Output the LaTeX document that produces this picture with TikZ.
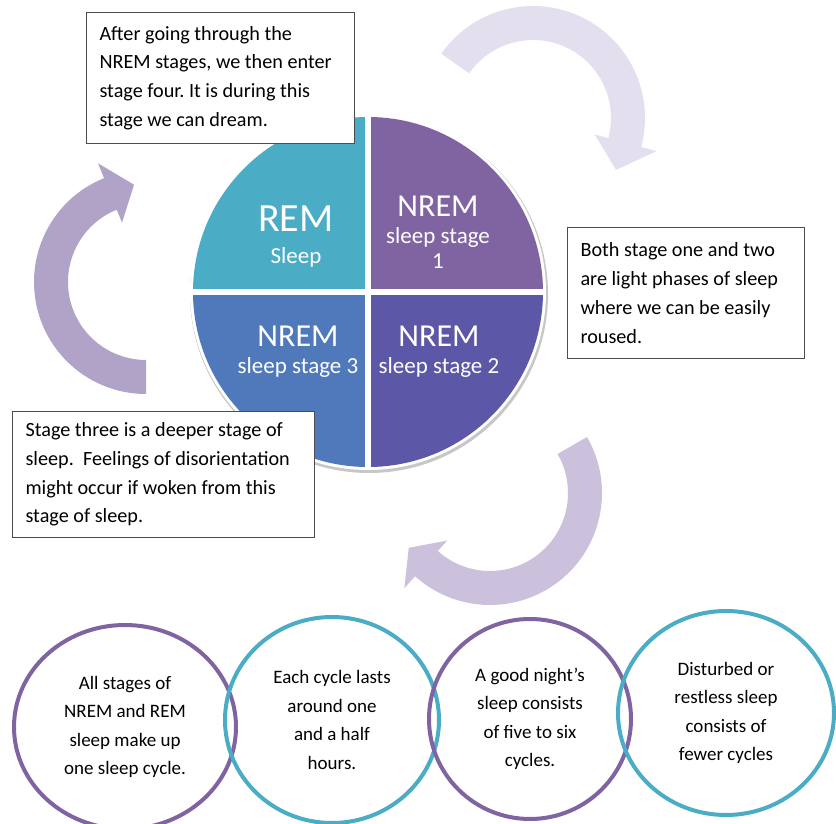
\documentclass[tikz,border=0pt]{standalone}
\usepackage{fontspec}
\setmainfont{Carlito}
\usetikzlibrary{shapes.geometric}
\definecolor{remteal}{HTML}{4BACC6}
\definecolor{stageone}{HTML}{8064A2}
\definecolor{stagetwo}{HTML}{5D57A8}
\definecolor{stagethree}{HTML}{4F79BB}
\definecolor{arrowlight}{HTML}{E4DFEE}
\definecolor{arrowmid}{HTML}{CBC1DC}
\definecolor{arrowdark}{HTML}{B1A3C8}
\frenchspacing

\begin{document}
\begin{tikzpicture}[x=1pt,y=1pt,
    note/.style={draw=black!70,line width=1.1pt,fill=white,align=flush left,
      inner xsep=13pt,inner ysep=0pt,anchor=north west,
      font=\fontsize{20.2}{28.7}\selectfont},
    ring/.style={ellipse,line width=4pt,inner sep=0pt,align=center,
      font=\fontsize{19}{28.5}\selectfont},
    big/.style={white,anchor=base,inner sep=0pt,font=\fontsize{32}{36}\selectfont},
    small/.style={white,anchor=base,inner sep=0pt,font=\fontsize{23}{26}\selectfont}]
  \useasboundingbox (0,0) rectangle (836,823);

  % Curved arrows round the cycle
  \foreach \cx/\cy/\a/\b/\t/\col in {533/705/145/-15/-32/arrowlight,
      490/330/30/-132/-146/arrowmid,146/541/270/112/97/arrowdark} {
    \begin{scope}[shift={(\cx,\cy)}]
      \fill[\col] (\a:112) arc[start angle=\a,end angle=\b,radius=112]
        -- (\b:128) -- (\t:98) -- (\b:64) -- (\b:78)
        arc[start angle=\b,end angle=\a,radius=78] -- cycle;
    \end{scope}
  }

  % Pie of the four stages
  \coordinate (pie) at (368,531);
  \fill[black!22] (369,529) circle (179);
  \fill[white] (pie) circle (178);
  \foreach \s/\col in {90/remteal,0/stageone,270/stagetwo,180/stagethree} {
    \fill[\col] (pie) -- ++(\s:175) arc[start angle=\s,end angle=\s+90,radius=175] -- cycle;
  }
  \draw[white,line width=6pt] (pie) ++(-177,0) -- ++(354,0)
    (pie) ++(0,-177) -- ++(0,354);

  \node[white,anchor=base,inner sep=0pt,font=\fontsize{40}{44}\selectfont] (rem) at (296,591) {REM};
  \node[small] (remsub) at (296,559) {Sleep};
  \node[big] (n1) at (438,606) {NREM};
  \node[small] (n1sub) at (438,579) {sleep stage};
  \node[small] (n1num) at (438,554) {1};
  \node[big] (n3) at (298,476) {NREM};
  \node[small] (n3sub) at (298,449) {sleep stage 3};
  \node[big] (n2) at (439,476) {NREM};
  \node[small] (n2sub) at (439,449) {sleep stage 2};

  % Notes
  \node[note,text width=242pt,minimum height=131pt] (dream) at (86,811)
    {After going through the\\ NREM stages, we then enter\\ stage four. It is during this\\ stage we can dream.};
  \node[note,text width=211pt,minimum height=131pt] (light) at (567,596)
    {Both stage one and two\\ are light phases of sleep\\ where we can be easily\\ roused.};
  \node[note,text width=276pt,minimum height=126pt] (deep) at (12,412)
    {Stage three is a deeper stage of\\ sleep.\ \ Feelings of disorientation\\ might occur if woken from this\\ stage of sleep.};

  % Facts about the cycle
  \node[ring,draw=stageone,minimum width=222pt,minimum height=204pt] (e1) at (125,96)
    {All stages of\\ NREM and REM\\ sleep make up\\ one sleep cycle.};
  \node[ring,draw=remteal,minimum width=214pt,minimum height=206pt] (e2) at (332,103)
    {Each cycle lasts\\ around one\\ and a half\\ hours.};
  \node[ring,draw=stageone,minimum width=202pt,minimum height=200pt] (e3) at (530,104)
    {A good night’s\\ sleep consists\\ of five to six\\ cycles.};
  \node[ring,draw=remteal,minimum width=216pt,minimum height=204pt] (e4) at (726,110)
    {Disturbed or\\ restless sleep\\ consists of\\ fewer cycles};
\end{tikzpicture}
\end{document}
